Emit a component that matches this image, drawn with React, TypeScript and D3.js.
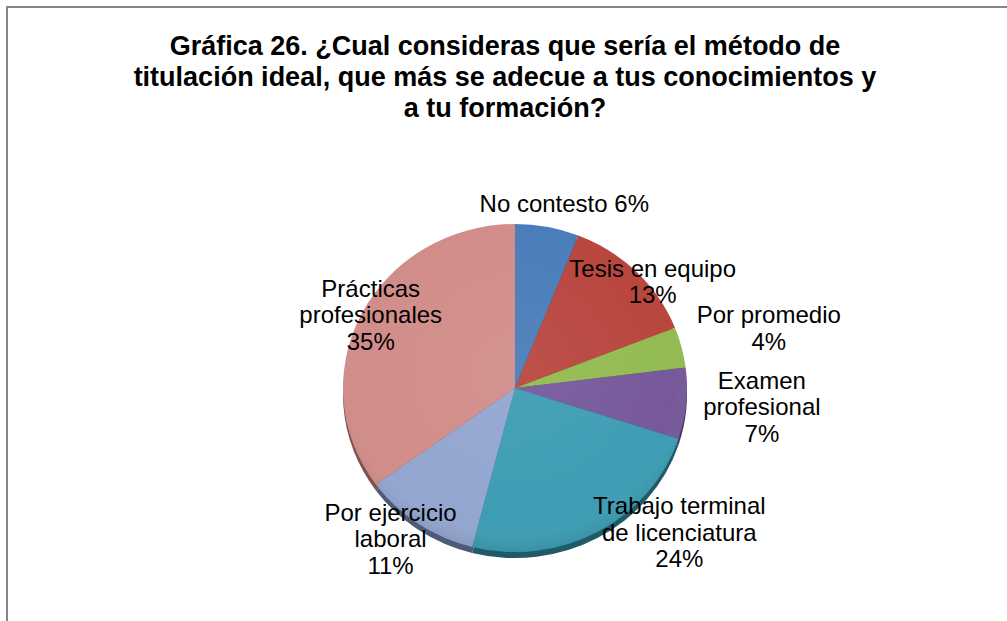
import { useEffect, useRef } from "react";
import * as d3 from "d3";

const W = 1007;
const H = 621;

const titleLines = [
  "Gráfica 26. ¿Cual consideras que sería el método de",
  "titulación ideal, que más se adecue a tus conocimientos y",
  "a tu formación?",
];

const categories = [
  "No contesto",
  "Tesis en equipo",
  "Por promedio",
  "Examen profesional",
  "Trabajo terminal de licenciatura",
  "Por ejercicio laboral",
  "Prácticas profesionales",
];
const percents = [6, 13, 4, 7, 24, 11, 35];
const labelLines = [
  ["No contesto 6%"],
  ["Tesis en equipo", "13%"],
  ["Por promedio", "4%"],
  ["Examen", "profesional", "7%"],
  ["Trabajo terminal", "de licenciatura", "24%"],
  ["Por ejercicio", "laboral", "11%"],
  ["Prácticas", "profesionales", "35%"],
];

const colors = ["#4a7dba", "#b9463f", "#93bb52", "#77599b", "#3e9db3", "#93a6d0", "#d18d8a"];
const rimColors = ["#2a4a70", "#6e2a26", "#58702f", "#463460", "#1f5a68", "#4d5a78", "#7e5150"];

// label placement: radius factor (in pie radii) and angle nudge (degrees)
const labelLayout = [
  { r: 1.16, da: 3.5 },
  { r: 1.03, da: 6 },
  { r: 1.52, da: 0.5 },
  { r: 1.44, da: -0.8 },
  { r: 1.3, da: -18.5 },
  { r: 1.17, da: 4 },
  { r: 0.95, da: 1 },
];

const CX = 515;
const CY = 388;
const RX = 172;
const RY = 164;
const DEPTH = 6;

export default function App() {
  const ref = useRef<SVGSVGElement>(null);

  useEffect(() => {
    document.body.style.margin = "0";
    if (!ref.current) return;
    const svg = d3.select(ref.current);
    svg.selectAll("*").remove();

    svg.append("rect").attr("width", W).attr("height", H).attr("fill", "#ffffff");

    // frame
    svg
      .append("path")
      .attr("d", `M7,${H} V7 H${W}`)
      .attr("fill", "none")
      .attr("stroke", "#868686")
      .attr("stroke-width", 2);

    // title
    svg
      .append("g")
      .selectAll("text")
      .data(titleLines)
      .join("text")
      .attr("x", 505)
      .attr("y", (_, i) => 55 + i * 31)
      .attr("text-anchor", "middle")
      .attr("font-family", "Liberation Sans, Arial, sans-serif")
      .attr("font-weight", "bold")
      .attr("font-size", 27)
      .attr("fill", "#000")
      .text((d) => d);

    const pie = d3
      .pie<number>()
      .sort(null)
      .value((d) => d);
    const arcs = pie(percents);
    const arc = d3.arc<d3.PieArcDatum<number>>().innerRadius(0).outerRadius(1);

    // rim (depth)
    svg
      .append("g")
      .attr("transform", `translate(${CX},${CY + DEPTH}) scale(${RX},${RY})`)
      .selectAll("path")
      .data(arcs)
      .join("path")
      .attr("d", arc)
      .attr("fill", (_, i) => rimColors[i]);

    // top face
    svg
      .append("g")
      .attr("transform", `translate(${CX},${CY}) scale(${RX},${RY})`)
      .selectAll("path")
      .data(arcs)
      .join("path")
      .attr("d", arc)
      .attr("fill", (_, i) => colors[i]);

    // soft shading
    const defs = svg.append("defs");
    const grad = defs
      .append("radialGradient")
      .attr("id", "shade")
      .attr("cx", "50%")
      .attr("cy", "45%")
      .attr("r", "55%");
    grad.append("stop").attr("offset", "0%").attr("stop-color", "#fff").attr("stop-opacity", 0.06);
    grad.append("stop").attr("offset", "85%").attr("stop-color", "#fff").attr("stop-opacity", 0);
    grad.append("stop").attr("offset", "100%").attr("stop-color", "#000").attr("stop-opacity", 0.08);
    svg
      .append("ellipse")
      .attr("cx", CX)
      .attr("cy", CY)
      .attr("rx", RX)
      .attr("ry", RY)
      .attr("fill", "url(#shade)");

    // labels
    const lineH = 26.5;
    const lg = svg
      .append("g")
      .attr("font-family", "Liberation Sans, Arial, sans-serif")
      .attr("font-size", 24)
      .attr("fill", "#000")
      .attr("text-anchor", "middle");

    arcs.forEach((a, i) => {
      const mid = (a.startAngle + a.endAngle) / 2 + (labelLayout[i].da * Math.PI) / 180;
      const lx = CX + Math.sin(mid) * RX * labelLayout[i].r;
      const ly = CY - Math.cos(mid) * RY * labelLayout[i].r;
      const lines = labelLines[i];
      const t = lg.append("text").attr("aria-label", categories[i]);
      lines.forEach((ln, j) => {
        t.append("tspan")
          .attr("x", lx)
          .attr("y", ly + (j - (lines.length - 1) / 2) * lineH)
          .attr("dy", "0.35em")
          .text(ln);
      });
    });
  }, []);

  return <svg ref={ref} width={W} height={H} style={{ display: "block" }} />;
}
